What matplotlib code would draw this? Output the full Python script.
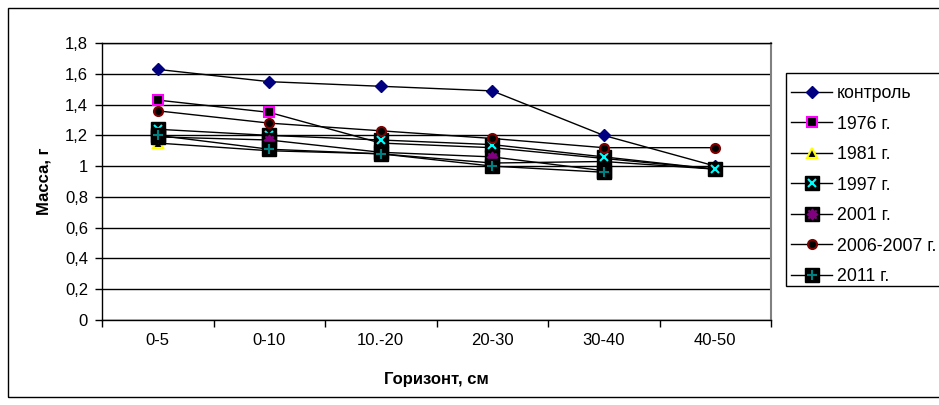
import numpy as np
import matplotlib
matplotlib.use("Agg")
import matplotlib.pyplot as plt
from matplotlib.legend_handler import HandlerTuple
from matplotlib.patches import Rectangle

plt.rcParams['font.family'] = ['Liberation Sans', 'DejaVu Sans']

categories = ["0-5", "0-10", "10.-20", "20-30", "30-40", "40-50"]
series_names = ["контроль", "1976 г.", "1981 г.", "1997 г.", "2001 г.", "2006-2007 г.", "2011 г."]
kontrol = [1.63, 1.55, 1.52, 1.49, 1.20, 1.00]
y1976 = [1.43, 1.35, 1.15, 1.12, 1.05, 0.98]
y1981 = [1.15, 1.10, 1.08, 1.02, 1.03, 0.98]
y1997 = [1.24, 1.20, 1.17, 1.14, 1.06, 0.98]
y2001 = [1.19, 1.17, 1.09, 1.06, 0.97, np.nan]
y2006 = [1.36, 1.28, 1.23, 1.18, 1.12, 1.12]
y2011 = [1.20, 1.11, 1.08, 1.00, 0.96, np.nan]
yticks = [0, 0.2, 0.4, 0.6, 0.8, 1.0, 1.2, 1.4, 1.6, 1.8]
ytick_labels = ["0", "0,2", "0,4", "0,6", "0,8", "1", "1,2", "1,4", "1,6", "1,8"]

W, H = 939, 405
fig = plt.figure(figsize=(W / 100, H / 100), dpi=100)
x0, x1, ytop, ybot = 102, 771, 43.3, 319.6
ax = fig.add_axes([x0 / W, 1 - ybot / H, (x1 - x0) / W, (ybot - ytop) / H])

x = np.arange(len(categories))
data = [kontrol, y1976, y1981, y1997, y2001, y2006, y2011]

styles = [
    dict(marker='D', ms=6, mfc='#000080', mec='#000080', mew=1),
    dict(marker='s', ms=6.5, mfc='black', mec='#FF00FF', mew=1.5),
    dict(marker='^', ms=6.5, mfc='black', mec='#FFFF00', mew=1.5),
    dict(marker='s', ms=10, mfc='black', mec='black', mew=1, ov='x', ovc='#00FFFF', ovs=6),
    dict(marker='s', ms=10, mfc='black', mec='black', mew=1, ov='$\u2735$', ovc='#800080', ovs=7),
    dict(marker='o', ms=6.5, mfc='black', mec='#800000', mew=1.5),
    dict(marker='s', ms=10, mfc='black', mec='black', mew=1, ov='+', ovc='#008080', ovs=7),
]

handles = []
for i, (vals, st) in enumerate(zip(data, styles)):
    z = 3 + i
    ln, = ax.plot(x, vals, color='black', lw=1, marker=st['marker'], ms=st['ms'],
                  mfc=st['mfc'], mec=st['mec'], mew=st['mew'], zorder=z, clip_on=False)
    if 'ov' in st:
        ov, = ax.plot(x, vals, ls='none', marker=st['ov'], ms=st['ovs'], mec=st['ovc'],
                      mfc=st['ovc'], mew=1.5, zorder=z + 0.5, clip_on=False)
        handles.append((ln, ov))
    else:
        handles.append(ln)

ax.set_xlim(-0.5, len(categories) - 0.5)
ax.set_ylim(0, 1.8)
ax.set_yticks(yticks)
ax.set_yticklabels(ytick_labels)
ax.yaxis.grid(True, color='black', lw=1)
ax.set_axisbelow(True)

ax.set_xticks(np.arange(-0.5, len(categories), 1.0))
ax.set_xticklabels([])
ax.set_xticks(x, minor=True)
ax.set_xticklabels(categories, minor=True)
ax.tick_params(axis='x', which='major', direction='out', length=5, width=1, color='black')
ax.tick_params(axis='x', which='minor', length=0, labelsize=12, pad=10)
ax.tick_params(axis='y', direction='out', length=5, width=1, labelsize=12, pad=5)

for s in ['left', 'bottom', 'top']:
    ax.spines[s].set_color('black')
    ax.spines[s].set_linewidth(1)
ax.spines['right'].set_color('#808080')
ax.spines['right'].set_linewidth(1.5)

ax.set_xlabel("Горизонт, см", fontsize=12, fontweight='bold', labelpad=17)
ax.set_ylabel("Масса, г", fontsize=12, fontweight='bold', labelpad=10)

leg = fig.legend(handles, series_names, loc='upper left',
                 bbox_to_anchor=(779 / W, 1 - 73 / H),
                 handler_map={tuple: HandlerTuple(ndivide=1)},
                 fontsize=12.8, frameon=False,
                 handlelength=2.3, handletextpad=0.28, labelspacing=0.76,
                 borderpad=0.68, borderaxespad=0)

# legend box
fig.patches.append(Rectangle((786 / W, 1 - 286 / H), (960 - 786) / W, (286 - 73) / H,
                             transform=fig.transFigure, fill=True, facecolor='white',
                             edgecolor='black', lw=1, zorder=0.5))

# chart area frame
fig.patches.append(Rectangle((8 / W, 8 / H), (960 - 8) / W, (397 - 8) / H,
                             transform=fig.transFigure, fill=False,
                             edgecolor='black', lw=1))

fig.savefig("out.png", dpi=100)
